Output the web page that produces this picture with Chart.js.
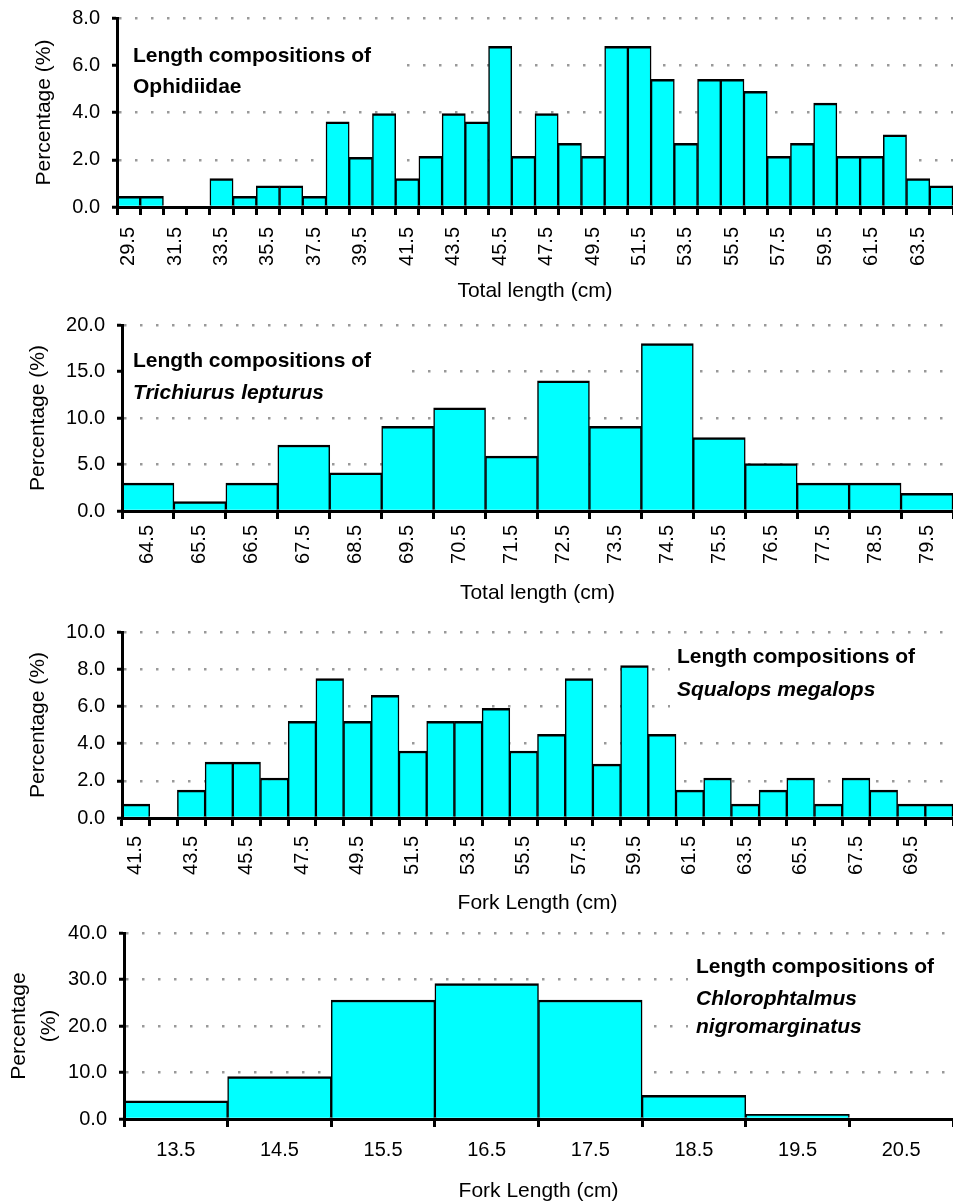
<!DOCTYPE html>
<html>
<head>
<meta charset="utf-8">
<script src="https://cdn.jsdelivr.net/npm/chart.js@4"></script>
<style>
html, body { margin: 0; padding: 0; background: #fff; overflow: hidden; width: 953px; height: 1203px; }
.panel { position: absolute; left: 0; width: 953px; }
canvas { display: block; }
</style>
</head>
<body>
<div class="panel" id="p1"><canvas id="c1"></canvas></div>
<div class="panel" id="p2"><canvas id="c2"></canvas></div>
<div class="panel" id="p3"><canvas id="c3"></canvas></div>
<div class="panel" id="p4"><canvas id="c4"></canvas></div>
<script>
// Ophidiidae, total length (cm)
const ophLengths = ['29.5','30.5','31.5','32.5','33.5','34.5','35.5','36.5','37.5','38.5','39.5','40.5',
    '41.5','42.5','43.5','44.5','45.5','46.5','47.5','48.5','49.5','50.5','51.5','52.5',
    '53.5','54.5','55.5','56.5','57.5','58.5','59.5','60.5','61.5','62.5','63.5','64.5'];
const ophPct = [0.45, 0.45, 0, 0, 1.2, 0.45, 0.9, 0.9, 0.45, 3.6, 2.1, 3.95,
    1.2, 2.15, 3.95, 3.6, 6.8, 2.15, 3.95, 2.7, 2.15, 6.8, 6.8, 5.4,
    2.7, 5.4, 5.4, 4.9, 2.15, 2.7, 4.4, 2.15, 2.15, 3.05, 1.2, 0.9];

// Trichiurus lepturus, total length (cm)
const triLengths = ['64.5','65.5','66.5','67.5','68.5','69.5','70.5','71.5',
    '72.5','73.5','74.5','75.5','76.5','77.5','78.5','79.5'];
const triPct = [3.0, 1.0, 3.0, 7.1, 4.1, 9.1, 11.1, 5.9, 14.0, 9.1, 18.0, 7.9, 5.1, 3.0, 3.0, 1.9];

// Squalops megalops, fork length (cm)
const squLengths = ['41.5','42.5','43.5','44.5','45.5','46.5','47.5','48.5','49.5','50.5',
    '51.5','52.5','53.5','54.5','55.5','56.5','57.5','58.5','59.5','60.5',
    '61.5','62.5','63.5','64.5','65.5','66.5','67.5','68.5','69.5','70.5'];
const squPct = [0.75, 0, 1.5, 3.0, 3.0, 2.15, 5.2, 7.5, 5.2, 6.6,
    3.6, 5.2, 5.2, 5.9, 3.6, 4.5, 7.5, 2.9, 8.2, 4.5,
    1.5, 2.15, 0.75, 1.5, 2.15, 0.75, 2.15, 1.5, 0.75, 0.75];

// Chlorophtalmus nigromarginatus, fork length (cm)
const chlLengths = ['13.5','14.5','15.5','16.5','17.5','18.5','19.5','20.5'];
const chlPct = [3.9, 9.1, 25.6, 29.1, 25.6, 5.1, 1.0, 0];

const ophNote = ['Length compositions of', 'Ophidiidae'];
const triNote = ['Length compositions of', 'Trichiurus lepturus'];
const squNote = ['Length compositions of', 'Squalops megalops'];
const chlNote = ['Length compositions of', 'Chlorophtalmus', 'nigromarginatus'];

Chart.defaults.font.family = '"Liberation Sans", Arial, sans-serif';
Chart.defaults.color = '#000';

const notes = {};

// white box behind the caption, then the caption itself
const notePlugin = {
    id: 'note',
    beforeDatasetsDraw(chart) {
        const n = notes[chart.canvas.id];
        if (!n) return;
        const ctx = chart.ctx;
        ctx.save();
        ctx.fillStyle = '#fff';
        ctx.fillRect(n.box[0], n.box[1], n.box[2], n.box[3]);
        ctx.restore();
    },
    afterDraw(chart) {
        const n = notes[chart.canvas.id];
        if (!n) return;
        const ctx = chart.ctx;
        ctx.save();
        ctx.fillStyle = '#000';
        ctx.textBaseline = 'alphabetic';
        ctx.textAlign = 'left';
        n.text.forEach((t, i) => {
            const italic = n.italic[i] ? 'italic ' : '';
            ctx.font = italic + 'bold 21px "Liberation Sans", Arial, sans-serif';
            ctx.fillText(t, n.x, n.ys[i]);
        });
        ctx.restore();
    }
};

function makePanel(num, cfg) {
    const top = cfg.areaTop - 15;
    const height = Math.round(cfg.titleY + 16 - top);
    const wrap = document.getElementById('p' + num);
    wrap.style.top = top + 'px';
    const canvas = document.getElementById('c' + num);
    canvas.width = 953;
    canvas.height = height;
    const xHeight = height - (cfg.areaBottom - top);

    notes[canvas.id] = {
        text: cfg.note,
        italic: cfg.italic,
        x: cfg.noteX,
        ys: cfg.noteYs.map(y => y - top),
        box: [cfg.box[0], cfg.box[1] - top, cfg.box[2], cfg.box[3]]
    };

    new Chart(canvas, {
        type: 'bar',
        data: {
            labels: cfg.labels,
            datasets: [{
                data: cfg.values,
                backgroundColor: '#00ffff',
                borderColor: '#000',
                borderWidth: { top: 2.5, left: 1.5, right: 1.5, bottom: 0 },
                barPercentage: 1,
                categoryPercentage: 1
            }]
        },
        options: {
            responsive: false,
            animation: false,
            events: [],
            layout: { padding: { top: 15, left: 0, right: 0, bottom: 0 } },
            plugins: {
                legend: { display: false },
                tooltip: { enabled: false }
            },
            scales: {
                x: {
                    offset: true,
                    grid: {
                        offset: true,
                        drawOnChartArea: false,
                        drawTicks: true,
                        tickLength: 8,
                        tickWidth: 3,
                        tickColor: '#000'
                    },
                    border: { color: '#000', width: 3, z: 1 },
                    ticks: {
                        autoSkip: false,
                        minRotation: cfg.rotation,
                        maxRotation: cfg.rotation,
                        padding: cfg.tickPad,
                        color: '#000',
                        font: { size: 20 },
                        callback: function(v, i) {
                            return (i % cfg.every === 0) ? this.getLabelForValue(v) : '';
                        }
                    },
                    title: {
                        display: true,
                        text: cfg.xTitle,
                        color: '#000',
                        font: { size: 21 },
                        padding: { top: 0, bottom: 3 }
                    },
                    afterFit: s => {
                        s.height = xHeight;
                        s.paddingLeft = 0;
                        s.paddingRight = 0;
                    }
                },
                y: {
                    min: 0,
                    max: cfg.yMax,
                    ticks: {
                        stepSize: cfg.yStep,
                        padding: 12,
                        color: '#000',
                        font: { size: 20 },
                        callback: v => v.toFixed(1)
                    },
                    grid: {
                        color: c => (c.tick && c.tick.value === 0) ? 'rgba(0,0,0,0)' : '#999',
                        lineWidth: 2.5,
                        tickLength: 5,
                        tickWidth: 3,
                        tickColor: '#000'
                    },
                    border: { color: '#000', width: 3, dash: [2.5, 13.5], z: 1 },
                    title: {
                        display: true,
                        text: cfg.yTitle,
                        color: '#000',
                        font: { size: 21, lineHeight: cfg.yLineHeight },
                        padding: { top: cfg.yTitlePad, bottom: 0 }
                    },
                    afterFit: s => {
                        s.width = cfg.areaLeft;
                        s.paddingTop = 0;
                        s.paddingBottom = 0;
                    }
                }
            }
        },
        plugins: [notePlugin]
    });
}

makePanel(1, {
    labels: ophLengths, values: ophPct, yMax: 8, yStep: 2,
    areaTop: 18, areaBottom: 207, areaLeft: 117, titleY: 290.7,
    rotation: 90, tickPad: 12, every: 2,
    xTitle: 'Total length (cm)', yTitle: 'Percentage (%)', yLineHeight: 1.2, yTitlePad: 32,
    note: ophNote, italic: [false, false], noteX: 133, noteYs: [61.7, 93],
    box: [119, 30, 283, 70]
});

makePanel(2, {
    labels: triLengths, values: triPct, yMax: 20, yStep: 5,
    areaTop: 325, areaBottom: 511, areaLeft: 122, titleY: 592.5,
    rotation: 90, tickPad: 6, every: 1,
    xTitle: 'Total length (cm)', yTitle: 'Percentage (%)', yLineHeight: 1.2, yTitlePad: 26,
    note: triNote, italic: [false, true], noteX: 133, noteYs: [366.7, 399],
    box: [124, 340, 282, 65]
});

makePanel(3, {
    labels: squLengths, values: squPct, yMax: 10, yStep: 2,
    areaTop: 632, areaBottom: 818, areaLeft: 122, titleY: 902.5,
    rotation: 90, tickPad: 10, every: 2,
    xTitle: 'Fork Length (cm)', yTitle: 'Percentage (%)', yLineHeight: 1.2, yTitlePad: 26,
    note: squNote, italic: [false, true], noteX: 677, noteYs: [663.3, 696],
    box: [670, 642, 283, 80]
});

makePanel(4, {
    labels: chlLengths, values: chlPct, yMax: 40, yStep: 10,
    areaTop: 933, areaBottom: 1119, areaLeft: 124, titleY: 1190.5,
    rotation: 0, tickPad: 11, every: 1,
    xTitle: 'Fork Length (cm)', yTitle: ['Percentage', '(%)'], yLineHeight: 1.43, yTitlePad: 4,
    note: chlNote, italic: [false, true, true], noteX: 696, noteYs: [972.7, 1005, 1033.3],
    box: [688, 945, 265, 100]
});
</script>
</body>
</html>
